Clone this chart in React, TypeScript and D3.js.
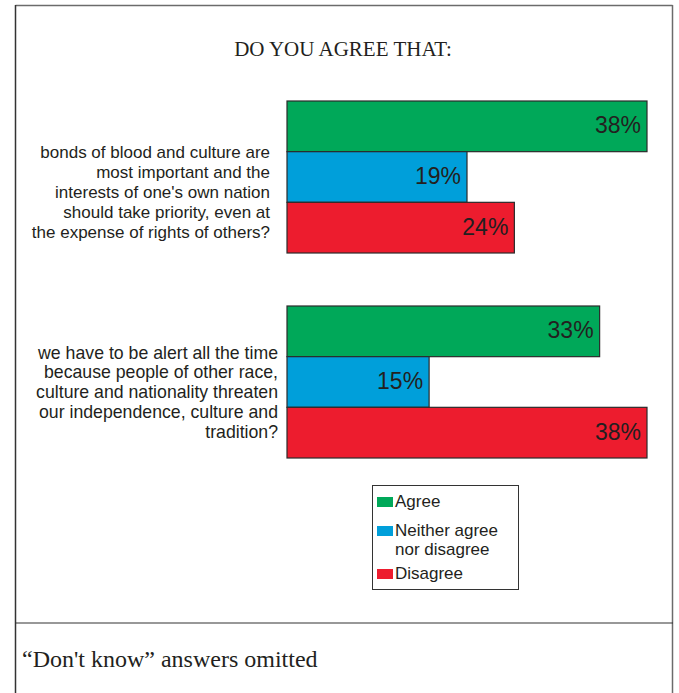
import React from "react";
import * as d3 from "d3";

const title = "DO YOU AGREE THAT:";
const questions = ["q1", "q2"];
const questionLines = [
  [
    "bonds of blood and culture are",
    "most important and the",
    "interests of one's own nation",
    "should take priority, even at",
    "the expense of rights of others?",
  ],
  [
    "we have to be alert all the time",
    "because people of other race,",
    "culture and nationality threaten",
    "our independence, culture and",
    "tradition?",
  ],
];
const series = ["Agree", "Neither agree nor disagree", "Disagree"];
const legendLines = [["Agree"], ["Neither agree", "nor disagree"], ["Disagree"]];
const agreeValues = [38, 33];
const neitherValues = [19, 15];
const disagreeValues = [24, 38];
const footnote = "\u201CDon't know\u201D answers omitted";

const colors = ["#00A859", "#009FDA", "#ED1C2E"];

export default function App() {
  const W = 679;
  const H = 693;
  const values = [agreeValues, neitherValues, disagreeValues];

  const x = d3.scaleLinear().domain([0, 38]).range([287, 647]);
  const yGroup = d3.scaleBand<string>().domain(questions).range([101, 458]).paddingInner(0.2585).paddingOuter(0);
  const ySeries = d3.scaleBand<string>().domain(series).range([0, yGroup.bandwidth()]).padding(0);

  const sans = "'Liberation Sans', Arial, sans-serif";
  const serif = "'Liberation Serif', 'Times New Roman', serif";
  const textColor = "#231F20";
  const textRight = [270, 278];
  const textOffset = [-23, -28];
  const textSize = [17, 17.7];

  return (
    <svg
      width={W}
      height={H}
      style={{ position: "absolute", left: 0, top: 0, background: "#fff" }}
    >
      {/* frame */}
      <line x1={15.5} y1={5.5} x2={672.5} y2={5.5} stroke="#6b6b6b" strokeWidth={1.5} />
      <line x1={15.5} y1={5} x2={15.5} y2={H} stroke="#333" strokeWidth={1.5} />
      <line x1={672.5} y1={5} x2={672.5} y2={H} stroke="#6b6b6b" strokeWidth={1.5} />
      <line x1={15} y1={623} x2={673} y2={623} stroke="#333" strokeWidth={1.2} />

      <text x={343} y={51} textAnchor="middle" dominantBaseline="middle" fontFamily={serif} fontSize={21} fill={textColor}>
        {title}
      </text>

      {questions.map((q, gi) => {
        const g0 = yGroup(q)!;
        const center = g0 + yGroup.bandwidth() / 2;
        return (
          <g key={q}>
            {series.map((s, si) => {
              const v = values[si][gi];
              const y0 = g0 + ySeries(s)!;
              const h = ySeries.bandwidth();
              return (
                <g key={s}>
                  <rect
                    x={x(0)}
                    y={y0}
                    width={x(v) - x(0)}
                    height={h}
                    fill={colors[si]}
                    stroke="#2b2b2b"
                    strokeWidth={1.2}
                  />
                  <text
                    x={x(v) - 6}
                    y={y0 + h / 2 + 1}
                    textAnchor="end"
                    dominantBaseline="middle"
                    fontFamily={sans}
                    fontSize={23}
                    fill={textColor}
                  >
                    {v}%
                  </text>
                </g>
              );
            })}
            <text fontFamily={sans} fontSize={textSize[gi]} fill={textColor} textAnchor="end">
              {questionLines[gi].map((line, li) => (
                <tspan key={li} x={textRight[gi]} y={center + textOffset[gi] + li * 19.8} dominantBaseline="middle">
                  {line}
                </tspan>
              ))}
            </text>
          </g>
        );
      })}

      {/* legend */}
      <rect x={372.5} y={485.5} width={146} height={104} fill="#fff" stroke="#333" strokeWidth={1} />
      {series.map((s, si) => {
        const tops = [502, 531, 574];
        const cy = tops[si];
        return (
          <g key={s}>
            <rect x={377} y={cy - 5} width={16} height={10} fill={colors[si]} />
            <text fontFamily={sans} fontSize={17} fill={textColor}>
              {legendLines[si].map((l, li) => (
                <tspan key={li} x={395} y={cy + 1 + li * 19} dominantBaseline="middle">
                  {l}
                </tspan>
              ))}
            </text>
          </g>
        );
      })}

      <text x={22} y={661} dominantBaseline="middle" fontFamily={serif} fontSize={24} fill={textColor}>
        {footnote}
      </text>
    </svg>
  );
}
